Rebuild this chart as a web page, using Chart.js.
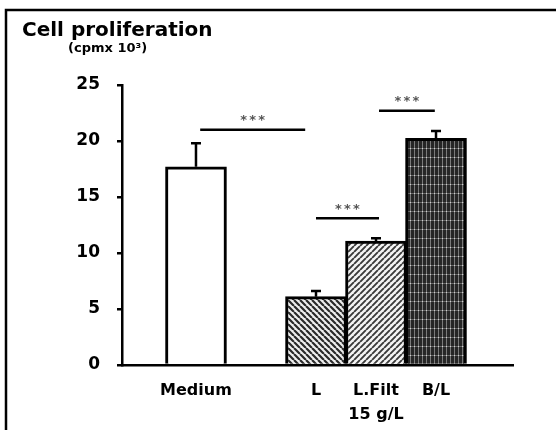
<!DOCTYPE html>
<html><head><meta charset="utf-8">
<script src="https://cdn.jsdelivr.net/npm/chart.js@4/dist/chart.umd.min.js"></script>
<style>html,body{margin:0;padding:0;background:#fff}#wrap{width:556px;height:430px;position:relative}</style>
</head><body><div id="wrap"><canvas id="c" width="556" height="430"></canvas></div>
<script>
// ---- data ----
const categories = ['Medium', '', 'L', 'L.Filt', 'B/L'];
const groupLabel = '15 g/L';
const groupLabelUnder = 'L.Filt';
const values = [17.7, null, 6.1, 11.07, 20.24];
const errors = [2.1, null, 0.5, 0.25, 0.65];
const yTicks = [0, 5, 10, 15, 20, 25];
const sigFrom = [0.07, 2.0, 3.05];
const sigTo = [1.82, 3.05, 3.98];
const sigLevel = [21.0, 13.1, 22.7];
const sigText = ['***', '***', '***'];
const titleText = 'Cell proliferation';
const unitText = '(cpmx 10\u00B3)';

const FONT = "'DejaVu Sans', Arial, sans-serif";

function makePattern(kind) {
  const c = document.createElement('canvas');
  const g = c.getContext('2d');
  if (kind === 'back' || kind === 'fwd') {
    const s = 6;
    c.width = s; c.height = s;
    g.fillStyle = kind === 'back' ? '#eeeeee' : '#f4f4f4';
    g.fillRect(0, 0, s, s);
    g.strokeStyle = kind === 'back' ? '#2a2a2a' : '#3a3a3a';
    g.lineWidth = kind === 'back' ? 2.2 : 1.9;
    g.beginPath();
    for (let i = -1; i <= 1; i++) {
      if (kind === 'back') { g.moveTo(i * s, 0); g.lineTo(i * s + s, s); }
      else { g.moveTo(i * s, s); g.lineTo(i * s + s, 0); }
    }
    g.stroke();
  } else {
    c.width = 4; c.height = 9;
    g.fillStyle = '#262626';
    g.fillRect(0, 0, 4, 9);
    g.fillStyle = '#7a7a7a';
    g.fillRect(2, 0, 1, 9);
    g.fillStyle = '#666';
    g.fillRect(0, 4, 4, 1);
    g.fillStyle = '#cfcfcf';
    g.fillRect(2, 4, 1, 1);
  }
  return document.getElementById('c').getContext('2d').createPattern(c, 'repeat');
}
const fills = ['#ffffff', '#ffffff', makePattern('back'), makePattern('fwd'), makePattern('grid')];

const points = categories.map((name, i) => ({ x: i, y: values[i] }));

const overlay = {
  id: 'overlay',
  afterDatasetsDraw(chart) {
    const ctx = chart.ctx, xs = chart.scales.x, ys = chart.scales.y;
    ctx.save();
    ctx.strokeStyle = '#000';
    ctx.lineWidth = 2.5;
    values.forEach((v, i) => {
      if (v == null || errors[i] == null) return;
      const x = xs.getPixelForValue(i);
      const y0 = ys.getPixelForValue(v);
      const y1 = ys.getPixelForValue(v + errors[i]);
      ctx.beginPath();
      ctx.moveTo(x, y0); ctx.lineTo(x, y1);
      ctx.moveTo(x - 5, y1); ctx.lineTo(x + 5, y1);
      ctx.stroke();
    });
    ctx.lineWidth = 2.5;
    sigFrom.forEach((f, i) => {
      const xa = xs.getPixelForValue(f), xb = xs.getPixelForValue(sigTo[i]);
      const y = ys.getPixelForValue(sigLevel[i]);
      ctx.strokeStyle = '#000';
      ctx.beginPath(); ctx.moveTo(xa, y); ctx.lineTo(xb, y); ctx.stroke();
      ctx.fillStyle = '#555';
      ctx.font = 'bold 13px ' + FONT;
      ctx.textAlign = 'center'; ctx.textBaseline = 'middle';
      const cx = (xa + xb) / 2;
      const stars = sigText[i].split('');
      stars.forEach((s, k) => ctx.fillText(s, cx + (k - (stars.length - 1) / 2) * 9, y - 9));
    });
    ctx.restore();
  },
  afterDraw(chart) {
    const ctx = chart.ctx;
    ctx.save();
    ctx.fillStyle = '#000';
    ctx.strokeStyle = '#000';
    ctx.lineWidth = 2.5;
    ctx.beginPath();
    ctx.moveTo(6, 430); ctx.lineTo(6, 10); ctx.lineTo(556, 10);
    ctx.stroke();
    ctx.textAlign = 'left'; ctx.textBaseline = 'alphabetic';
    ctx.font = 'bold 20px ' + FONT;
    ctx.fillText(titleText, 22, 36);
    ctx.font = 'bold 13px ' + FONT;
    ctx.fillText(unitText, 68, 52);
    ctx.restore();
  }
};

new Chart(document.getElementById('c'), {
  type: 'bar',
  data: {
    datasets: [{
      data: points,
      backgroundColor: fills,
      borderColor: '#000',
      borderWidth: 3,
      borderSkipped: 'start',
      barThickness: 61
    }]
  },
  options: {
    responsive: false,
    animation: false,
    devicePixelRatio: 1,
    layout: { padding: { top: 85, right: 43, left: 0, bottom: 0 } },
    plugins: { legend: { display: false }, tooltip: { enabled: false }, title: { display: false } },
    scales: {
      x: {
        type: 'linear',
        offset: false,
        min: -1.233, max: 5.283,
        grid: { display: false, offset: false },
        border: { display: true, color: '#000', width: 2.5 },
        afterBuildTicks(scale) {
          scale.ticks = categories.map((c, i) => ({ value: i })).filter(t => categories[t.value] !== '');
        },
        afterFit(scale) { scale.height = 65; },
        ticks: {
          autoSkip: false, maxRotation: 0, padding: 6, color: '#000',
          font: { family: FONT, size: 16, weight: 'bold', lineHeight: 1.5 },
          callback(v) {
            const name = categories[v];
            return name === groupLabelUnder ? [name, groupLabel] : name;
          }
        }
      },
      y: {
        min: 0, max: 25,
        afterBuildTicks(scale) { scale.ticks = yTicks.map(v => ({ value: v })); },
        afterFit(scale) { scale.width = 122; },
        grid: { display: true, drawOnChartArea: false, drawTicks: true, tickLength: 5, color: '#000', lineWidth: 2.5 },
        border: { display: true, color: '#000', width: 2.5 },
        ticks: { padding: 17, color: '#000', font: { family: FONT, size: 17, weight: 'bold' } }
      }
    }
  },
  plugins: [overlay]
});
</script>
</body></html>
